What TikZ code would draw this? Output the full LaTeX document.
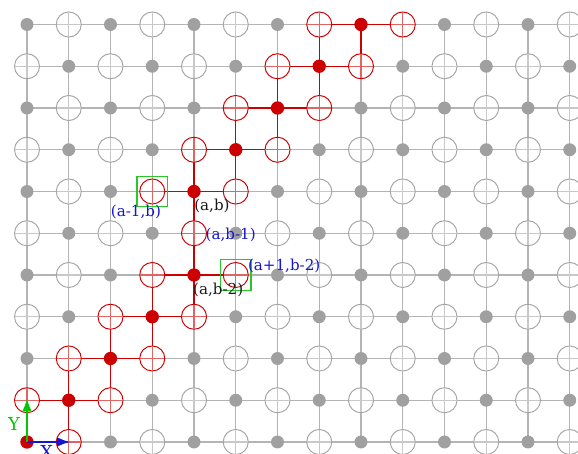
\documentclass[tikz,border=0pt]{standalone}
\usepackage{fontspec}
\setmainfont{DejaVu Serif}
\usetikzlibrary{arrows.meta}
\definecolor{gridgray}{RGB}{180,180,180}
\definecolor{ringgray}{RGB}{165,165,165}
\definecolor{crossgray}{RGB}{200,200,200}
\definecolor{dotgray}{RGB}{160,160,160}
\definecolor{pathred}{RGB}{204,0,0}
\definecolor{crossred}{RGB}{225,100,100}
\definecolor{boxgreen}{RGB}{40,200,40}
\definecolor{axisgreen}{RGB}{0,200,0}
\definecolor{lblblue}{RGB}{20,20,210}
\definecolor{lblblack}{RGB}{25,25,25}
\newif\ifredge
\begin{document}
\begin{tikzpicture}[x=1cm,y=1cm,
  gridline/.style={draw=gridgray, line width=0.9pt},
  redline/.style={draw=pathred, line width=0.9pt},
  dotspot/.style={circle, inner sep=0pt, outer sep=0pt, minimum size=0.31cm},
  ringspot/.style={circle, inner sep=0pt, outer sep=0pt, minimum size=0.6cm},
  grayring/.style={draw=ringgray, fill=white, line width=0.65pt},
  redring/.style={draw=pathred, fill=white, line width=0.65pt},
  graycross/.style={draw=crossgray, line width=0.85pt},
  redcross/.style={draw=crossred, line width=0.85pt},
  greenbox/.style={draw=boxgreen, line width=0.8pt, rectangle, inner sep=0pt,
    minimum size=0.73cm},
  lbl/.style={font=\fontsize{10.3}{12}\selectfont, inner sep=0pt},
  axlbl/.style={font=\fontsize{12.2}{14}\selectfont, inner sep=0pt},
  axarrow/.style={line width=1.4pt, -{Latex[length=9pt,width=6.5pt]}}
]
\path[use as bounding box] (-0.647,-0.287) rectangle (13.198,10.587);
\clip (-0.647,-0.287) rectangle (13.198,10.587);

% red dots and their neighbouring red rings
\foreach \a/\b in {0/0,1/1,2/2,3/3,4/4,4/6,5/7,6/8,7/9,8/10}{
  \expandafter\xdef\csname RD-\a-\b\endcsname{1}
  \pgfmathtruncatemacro\am{\a-1}\pgfmathtruncatemacro\ap{\a+1}
  \pgfmathtruncatemacro\bm{\b-1}\pgfmathtruncatemacro\bp{\b+1}
  \expandafter\xdef\csname RC-\am-\b\endcsname{1}
  \expandafter\xdef\csname RC-\ap-\b\endcsname{1}
  \expandafter\xdef\csname RC-\a-\bm\endcsname{1}
  \expandafter\xdef\csname RC-\a-\bp\endcsname{1}
}

% node shapes (named, for the connectors)
\foreach \i in {0,...,13}{
  \foreach \j in {0,...,10}{
    \pgfmathtruncatemacro\parity{mod(\i+\j,2)}
    \ifnum\parity=0
      \node[dotspot] (n-\i-\j) at (\i,\j) {};
    \else
      \node[ringspot] (n-\i-\j) at (\i,\j) {};
    \fi
  }
}

% grid connectors (centre to centre)
\foreach \i in {0,...,12}{
  \foreach \j in {0,...,10}{
    \pgfmathtruncatemacro\ip{\i+1}
    \redgefalse
    \ifcsname RD-\i-\j\endcsname\redgetrue\fi
    \ifcsname RD-\ip-\j\endcsname\redgetrue\fi
    \ifredge
      \draw[redline] (n-\i-\j.center) -- (n-\ip-\j.center);
    \else
      \draw[gridline] (n-\i-\j.center) -- (n-\ip-\j.center);
    \fi
  }
}
\foreach \i in {0,...,13}{
  \foreach \j in {0,...,9}{
    \pgfmathtruncatemacro\jp{\j+1}
    \redgefalse
    \ifcsname RD-\i-\j\endcsname\redgetrue\fi
    \ifcsname RD-\i-\jp\endcsname\redgetrue\fi
    \ifredge
      \draw[redline] (n-\i-\j.center) -- (n-\i-\jp.center);
    \else
      \draw[gridline] (n-\i-\j.center) -- (n-\i-\jp.center);
    \fi
  }
}

% visible dots and rings
\foreach \i in {0,...,13}{
  \foreach \j in {0,...,10}{
    \pgfmathtruncatemacro\parity{mod(\i+\j,2)}
    \ifnum\parity=0
      \ifcsname RD-\i-\j\endcsname
        \fill[pathred] (n-\i-\j.center) circle (0.16);
      \else
        \fill[dotgray] (n-\i-\j.center) circle (0.155);
      \fi
    \else
      \ifcsname RC-\i-\j\endcsname
        \filldraw[redring] (n-\i-\j.center) circle (0.3);
      \else
        \filldraw[grayring] (n-\i-\j.center) circle (0.3);
      \fi
    \fi
  }
}

% crosses inside every ring, drawn on top
\foreach \i in {0,...,13}{
  \foreach \j in {0,...,10}{
    \pgfmathtruncatemacro\parity{mod(\i+\j,2)}
    \ifnum\parity=1
      \ifcsname RC-\i-\j\endcsname
        \draw[redcross] (\i,\j) ++(0,-0.29) -- ++(0,0.58);
        \draw[redcross] (\i,\j) ++(-0.29,0) -- ++(0.58,0);
      \else
        \draw[graycross] (\i,\j) ++(0,-0.29) -- ++(0,0.58);
        \draw[graycross] (\i,\j) ++(-0.29,0) -- ++(0.58,0);
      \fi
    \fi
  }
}

% highlighted rings
\node[greenbox] (g1) at (n-3-6) {};
\node[greenbox] (g2) at (n-5-4) {};

% labels
\node[lbl, text=lblblack] (l-ab) at (4.43,5.65) {(a,b)};
\node[lbl, text=lblblue] (l-a1b) at (2.61,5.50) {(a-1,b)};
\node[lbl, text=lblblue] (l-ab1) at (4.88,4.96) {(a,b-1)};
\node[lbl, text=lblblue] (l-a1b2) at (6.16,4.22) {(a+1,b-2)};
\node[lbl, text=lblblack] (l-ab2) at (4.58,3.65) {(a,b-2)};

% axes
\coordinate (xend) at (1.04,0);
\coordinate (yend) at (0,1.05);
\draw[axarrow, draw=lblblue, fill=lblblue] (n-0-0.center) -- (xend);
\draw[axarrow, draw=axisgreen, fill=axisgreen] (n-0-0.center) -- (yend);
\node[axlbl, text=axisgreen] (ylbl) at (-0.31,0.44) {Y};
\node[axlbl, text=lblblue] (xlbl) at (0.47,-0.23) {X};
\end{tikzpicture}
\end{document}
